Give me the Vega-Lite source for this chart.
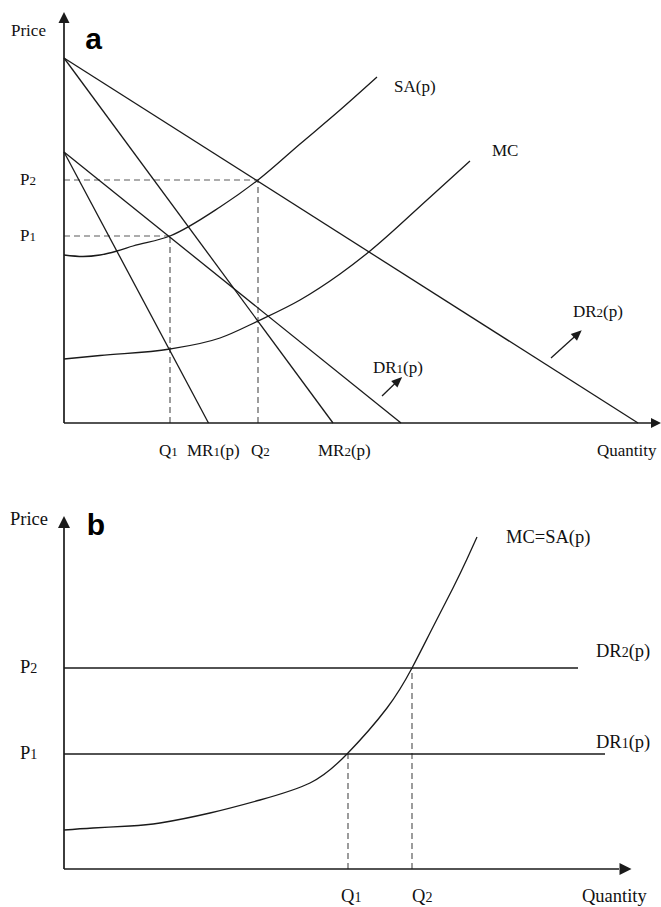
{
  "$schema": "https://vega.github.io/schema/vega-lite/v6.json",
  "autosize": {"type": "pad"},
  "padding": 0,
  "background": "white",
  "spacing": 0,
  "bounds": "flush",
  "config": {"view": {"stroke": null}},
  "datasets": {
    "a_lines": [
      {"curve": "SA", "q": 0, "p": 168}, {"curve": "SA", "q": 19, "p": 166.5}, {"curve": "SA", "q": 36, "p": 168}, {"curve": "SA", "q": 53, "p": 172}, {"curve": "SA", "q": 69, "p": 177}, {"curve": "SA", "q": 106, "p": 187}, {"curve": "SA", "q": 156, "p": 216}, {"curve": "SA", "q": 194, "p": 243}, {"curve": "SA", "q": 236, "p": 279}, {"curve": "SA", "q": 276, "p": 313}, {"curve": "SA", "q": 313, "p": 346},
      {"curve": "MC", "q": 0, "p": 64}, {"curve": "MC", "q": 36, "p": 67.5}, {"curve": "MC", "q": 106, "p": 74}, {"curve": "MC", "q": 156, "p": 85}, {"curve": "MC", "q": 194, "p": 102}, {"curve": "MC", "q": 236, "p": 123}, {"curve": "MC", "q": 276, "p": 149}, {"curve": "MC", "q": 306, "p": 172}, {"curve": "MC", "q": 363, "p": 223}, {"curve": "MC", "q": 406, "p": 262},
      {"curve": "MR1", "q": 0, "p": 271}, {"curve": "MR1", "q": 144.5, "p": 0},
      {"curve": "DR1", "q": 0, "p": 271}, {"curve": "DR1", "q": 337, "p": 0},
      {"curve": "MR2", "q": 0, "p": 365}, {"curve": "MR2", "q": 269, "p": 0},
      {"curve": "DR2", "q": 0, "p": 365}, {"curve": "DR2", "q": 574, "p": 0},
      {"curve": "shift1", "q": 318, "p": 27}, {"curve": "shift1", "q": 332, "p": 40.5},
      {"curve": "shift2", "q": 487, "p": 65}, {"curve": "shift2", "q": 511.3, "p": 87}
    ],
    "a_dash": [
      {"q": 0, "p": 243, "q2": 194, "p2": 243},
      {"q": 0, "p": 187, "q2": 106, "p2": 187},
      {"q": 106, "p": 0, "q2": 106, "p2": 187},
      {"q": 194, "p": 0, "q2": 194, "p2": 243}
    ],
    "a_axes": [
      {"q": 0, "p": 0, "q2": 0, "p2": 401},
      {"q": 0, "p": 0, "q2": 588, "p2": 0}
    ],
    "a_head_up": [{"q": 0, "p": 405.5}],
    "a_head_right": [{"q": 592, "p": 0}],
    "a_head_diag": [{"q": 334.2, "p": 42.4}, {"q": 513.8, "p": 89.2}],
    "a_big": [
      {"t": "Price", "q": -53, "p": 387.5},
      {"t": "P", "q": -44, "p": 238},
      {"t": "P", "q": -44, "p": 182},
      {"t": "Q", "q": 95, "p": -33},
      {"t": "MR", "q": 123, "p": -33},
      {"t": "(p)", "q": 155.9, "p": -33},
      {"t": "Q", "q": 187, "p": -33},
      {"t": "MR", "q": 254, "p": -33},
      {"t": "(p)", "q": 286.9, "p": -33},
      {"t": "Quantity", "q": 533, "p": -33},
      {"t": "DR", "q": 309, "p": 50},
      {"t": "(p)", "q": 339.1, "p": 50},
      {"t": "DR", "q": 509, "p": 106},
      {"t": "(p)", "q": 539.1, "p": 106},
      {"t": "SA(p)", "q": 330, "p": 331.5},
      {"t": "MC", "q": 428, "p": 267}
    ],
    "a_small": [
      {"t": "2", "q": -34.5, "p": 238},
      {"t": "1", "q": -34.5, "p": 182},
      {"t": "1", "q": 107.3, "p": -33},
      {"t": "1", "q": 149.4, "p": -33},
      {"t": "2", "q": 199.3, "p": -33},
      {"t": "2", "q": 280.4, "p": -33},
      {"t": "1", "q": 332.6, "p": 50},
      {"t": "2", "q": 532.6, "p": 106}
    ],
    "a_tag": [{"t": "a", "q": 29.5, "p": 374}],
    "b_lines": [
      {"curve": "MCSA", "q": 0, "p": 39}, {"curve": "MCSA", "q": 29, "p": 41}, {"curve": "MCSA", "q": 66, "p": 43}, {"curve": "MCSA", "q": 96, "p": 46}, {"curve": "MCSA", "q": 146, "p": 56}, {"curve": "MCSA", "q": 196, "p": 69}, {"curve": "MCSA", "q": 246, "p": 86}, {"curve": "MCSA", "q": 283, "p": 115}, {"curve": "MCSA", "q": 323, "p": 161}, {"curve": "MCSA", "q": 348, "p": 201}, {"curve": "MCSA", "q": 369, "p": 242}, {"curve": "MCSA", "q": 389, "p": 281}, {"curve": "MCSA", "q": 403, "p": 310}, {"curve": "MCSA", "q": 413, "p": 332},
      {"curve": "DR2", "q": 0, "p": 201}, {"curve": "DR2", "q": 514, "p": 201},
      {"curve": "DR1", "q": 0, "p": 115}, {"curve": "DR1", "q": 541, "p": 115}
    ],
    "b_dash": [
      {"q": 284, "p": 0, "q2": 284, "p2": 115},
      {"q": 348, "p": 0, "q2": 348, "p2": 201}
    ],
    "b_axes": [
      {"q": 0, "p": 0, "q2": 0, "p2": 341},
      {"q": 0, "p": 0, "q2": 555, "p2": 0}
    ],
    "b_head_up": [{"q": 0, "p": 347}],
    "b_head_right": [{"q": 561.5, "p": 0}],
    "b_big": [
      {"t": "Price", "q": -54, "p": 344},
      {"t": "P", "q": -44, "p": 196},
      {"t": "P", "q": -44, "p": 110},
      {"t": "DR", "q": 532, "p": 212},
      {"t": "(p)", "q": 564.7, "p": 212},
      {"t": "DR", "q": 532, "p": 121},
      {"t": "(p)", "q": 564.7, "p": 121},
      {"t": "Q", "q": 277, "p": -33},
      {"t": "Q", "q": 348, "p": -33},
      {"t": "Quantity", "q": 518, "p": -33},
      {"t": "MC=SA(p)", "q": 442, "p": 326}
    ],
    "b_small": [
      {"t": "2", "q": -33.7, "p": 196},
      {"t": "1", "q": -33.7, "p": 110},
      {"t": "2", "q": 557.7, "p": 212},
      {"t": "1", "q": 557.7, "p": 121},
      {"t": "1", "q": 290.4, "p": -33},
      {"t": "2", "q": 361.4, "p": -33}
    ],
    "b_tag": [{"t": "b", "q": 32, "p": 334}]
  },
  "vconcat": [
    {
      "width": 661,
      "height": 470,
      "encoding": {
        "x": {"field": "q", "type": "quantitative", "scale": {"domain": [-64, 597], "nice": false, "zero": false}, "axis": null},
        "y": {"field": "p", "type": "quantitative", "scale": {"domain": [-47, 423], "nice": false, "zero": false}, "axis": null}
      },
      "layer": [
        {"data": {"name": "a_dash"}, "mark": {"type": "rule", "color": "#5a5a5a", "strokeWidth": 1.2, "strokeDash": [6, 4]}, "encoding": {"x2": {"field": "q2"}, "y2": {"field": "p2"}}},
        {"data": {"name": "a_lines"}, "mark": {"type": "line", "interpolate": "monotone", "color": "#1a1a1a", "strokeWidth": 1.3}, "encoding": {"detail": {"field": "curve"}}},
        {"data": {"name": "a_axes"}, "mark": {"type": "rule", "color": "#1a1a1a", "strokeWidth": 1.7}, "encoding": {"x2": {"field": "q2"}, "y2": {"field": "p2"}}},
        {"data": {"name": "a_head_up"}, "mark": {"type": "point", "shape": "M-1,1L0,-1L1,1Z", "filled": true, "color": "#1a1a1a", "opacity": 1, "size": 121, "angle": 0}},
        {"data": {"name": "a_head_right"}, "mark": {"type": "point", "shape": "M-1,1L0,-1L1,1Z", "filled": true, "color": "#1a1a1a", "opacity": 1, "size": 100, "angle": 90}},
        {"data": {"name": "a_head_diag"}, "mark": {"type": "point", "shape": "M-0.85,1L0,-1L0.85,1Z", "filled": true, "color": "#1a1a1a", "opacity": 1, "size": 115, "angle": 47}},
        {"data": {"name": "a_big"}, "mark": {"type": "text", "font": "Liberation Serif", "fontSize": 17, "align": "left", "baseline": "alphabetic", "color": "#111"}, "encoding": {"text": {"field": "t"}}},
        {"data": {"name": "a_small"}, "mark": {"type": "text", "font": "Liberation Serif", "fontSize": 13, "align": "left", "baseline": "alphabetic", "color": "#111"}, "encoding": {"text": {"field": "t"}}},
        {"data": {"name": "a_tag"}, "mark": {"type": "text", "font": "Liberation Sans", "fontWeight": "bold", "fontSize": 30, "align": "center", "baseline": "alphabetic", "color": "#000"}, "encoding": {"text": {"field": "t"}}}
      ]
    },
    {
      "width": 661,
      "height": 437,
      "encoding": {
        "x": {"field": "q", "type": "quantitative", "scale": {"domain": [-64, 597], "nice": false, "zero": false}, "axis": null},
        "y": {"field": "p", "type": "quantitative", "scale": {"domain": [-38, 399], "nice": false, "zero": false}, "axis": null}
      },
      "layer": [
        {"data": {"name": "b_dash"}, "mark": {"type": "rule", "color": "#5a5a5a", "strokeWidth": 1.2, "strokeDash": [6, 4]}, "encoding": {"x2": {"field": "q2"}, "y2": {"field": "p2"}}},
        {"data": {"name": "b_lines"}, "mark": {"type": "line", "interpolate": "natural", "color": "#1a1a1a", "strokeWidth": 1.3}, "encoding": {"detail": {"field": "curve"}}},
        {"data": {"name": "b_axes"}, "mark": {"type": "rule", "color": "#1a1a1a", "strokeWidth": 1.7}, "encoding": {"x2": {"field": "q2"}, "y2": {"field": "p2"}}},
        {"data": {"name": "b_head_up"}, "mark": {"type": "point", "shape": "M-1,1L0,-1L1,1Z", "filled": true, "color": "#1a1a1a", "opacity": 1, "size": 144, "angle": 0}},
        {"data": {"name": "b_head_right"}, "mark": {"type": "point", "shape": "M-1,1L0,-1L1,1Z", "filled": true, "color": "#1a1a1a", "opacity": 1, "size": 144, "angle": 90}},
        {"data": {"name": "b_big"}, "mark": {"type": "text", "font": "Liberation Serif", "fontSize": 18.5, "align": "left", "baseline": "alphabetic", "color": "#111"}, "encoding": {"text": {"field": "t"}}},
        {"data": {"name": "b_small"}, "mark": {"type": "text", "font": "Liberation Serif", "fontSize": 14, "align": "left", "baseline": "alphabetic", "color": "#111"}, "encoding": {"text": {"field": "t"}}},
        {"data": {"name": "b_tag"}, "mark": {"type": "text", "font": "Liberation Sans", "fontWeight": "bold", "fontSize": 30, "align": "center", "baseline": "alphabetic", "color": "#000"}, "encoding": {"text": {"field": "t"}}}
      ]
    }
  ]
}
